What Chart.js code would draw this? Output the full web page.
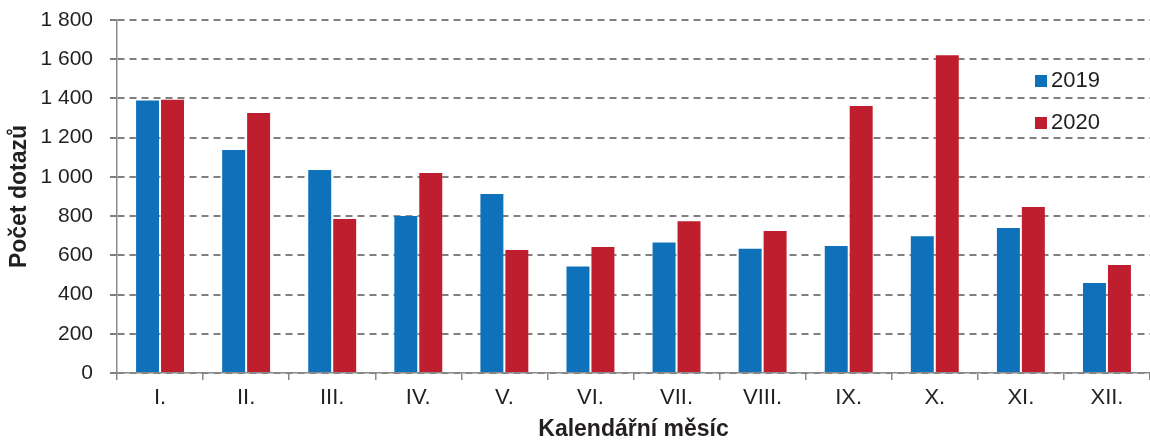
<!DOCTYPE html>
<html lang="cs">
<head>
    <meta charset="UTF-8">
    <title>Počet dotazů</title>
    <script src="https://cdn.jsdelivr.net/npm/chart.js"></script>
    <style>
        html, body { margin: 0; padding: 0; background: #fff; }
        #wrap { width: 1150px; height: 443px; position: relative; }
    </style>
</head>
<body>
    <div id="wrap"><canvas id="chart"></canvas></div>
    <script>
        // měsíce a hodnoty
        const months = ['I.', 'II.', 'III.', 'IV.', 'V.', 'VI.', 'VII.', 'VIII.', 'IX.', 'X.', 'XI.', 'XII.'];
        const values2019 = [1395, 1142, 1040, 806, 918, 548, 670, 639, 653, 702, 745, 464];
        const values2020 = [1398, 1331, 790, 1025, 632, 648, 779, 729, 1367, 1625, 852, 556];
        const yTicks = [0, 200, 400, 600, 800, 1000, 1200, 1400, 1600, 1800];

        const FONT = "'Liberation Sans', Arial, sans-serif";
        const BLUE = '#0f71b9';
        const RED = '#be1e2d';

        // legenda uvnitř grafu vpravo nahoře
        const innerLegend = {
            id: 'innerLegend',
            afterDatasetsDraw(chart) {
                const ctx = chart.ctx;
                ctx.save();
                ctx.font = '22px ' + FONT;
                ctx.textBaseline = 'alphabetic';
                chart.data.datasets.forEach((ds, i) => {
                    const y = 75 + i * 42;
                    ctx.fillStyle = ds.backgroundColor;
                    ctx.fillRect(1035, y, 12, 12);
                    ctx.fillStyle = '#231f20';
                    ctx.fillText(ds.label, 1051, y + 12);
                });
                ctx.restore();
            }
        };

        const ctx = document.getElementById('chart').getContext('2d');
        new Chart(ctx, {
            type: 'bar',
            data: {
                labels: months,
                datasets: [
                    {
                        label: '2019',
                        data: values2019,
                        backgroundColor: BLUE,
                        borderColor: 'rgba(255,255,255,0.15)',
                        borderWidth: 1,
                        categoryPercentage: 0.58,
                        barPercentage: 1
                    },
                    {
                        label: '2020',
                        data: values2020,
                        backgroundColor: RED,
                        borderColor: 'rgba(255,255,255,0.15)',
                        borderWidth: 1,
                        categoryPercentage: 0.58,
                        barPercentage: 1
                    }
                ]
            },
            options: {
                responsive: true,
                maintainAspectRatio: false,
                animation: false,
                layout: { padding: { top: 20, right: 0, left: 0, bottom: 0 } },
                plugins: {
                    legend: { display: false },
                    tooltip: { enabled: false }
                },
                scales: {
                    x: {
                        grid: {
                            display: true,
                            drawOnChartArea: false,
                            drawTicks: true,
                            tickLength: 7,
                            color: '#8a8a8a',
                            lineWidth: 1.5,
                            offset: true
                        },
                        border: { display: true, color: '#8a8a8a', width: 1.5 },
                        ticks: {
                            color: '#231f20',
                            font: { family: FONT, size: 22 },
                            padding: 5,
                            maxRotation: 0
                        },
                        title: {
                            display: true,
                            text: 'Kalendářní měsíc',
                            color: '#231f20',
                            font: { family: FONT, size: 23, weight: 'bold' },
                            padding: { top: 4, bottom: 0 }
                        },
                        afterFit(scale) { scale.height = 70; }
                    },
                    y: {
                        min: 0,
                        max: 1800,
                        afterBuildTicks(scale) {
                            scale.ticks = yTicks.map(v => ({ value: v }));
                        },
                        grid: {
                            color: '#7f7f7f',
                            lineWidth: 2,
                            tickLength: 7,
                            tickBorderDash: [7, 0]
                        },
                        border: { display: true, color: '#8a8a8a', width: 1.5, dash: [7, 5] },
                        ticks: {
                            color: '#231f20',
                            font: { family: FONT, size: 21 },
                            padding: 17,
                            callback: v => v >= 1000 ? Math.floor(v / 1000) + ' ' + String(v % 1000).padStart(3, '0') : String(v)
                        },
                        title: {
                            display: true,
                            text: 'Počet dotazů',
                            color: '#231f20',
                            font: { family: FONT, size: 23, weight: 'bold' },
                            padding: { top: 6, bottom: 0 }
                        },
                        afterFit(scale) {
                            scale.width = 117;
                            // popisky nemají odsazovat horní okraj plochy grafu
                            scale.paddingTop = 0;
                            scale.paddingBottom = 0;
                        }
                    }
                }
            },
            plugins: [innerLegend]
        });
    </script>
</body>
</html>
